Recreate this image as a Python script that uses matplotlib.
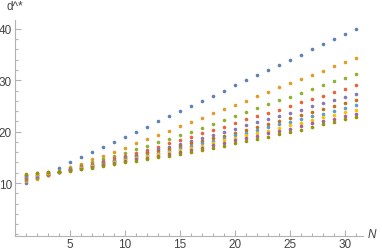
import matplotlib.pyplot as plt
from matplotlib.ticker import MultipleLocator

n_values = list(range(1, 32))

blue = [10, 11, 12, 13, 14, 15, 16, 17, 18, 19, 20, 21, 22, 23, 24, 25,
        26, 27, 28, 29, 30, 31, 32, 33, 34, 35, 36, 37, 38, 39, 40]
orange = [10.3, 10.8, 11.6, 12.4, 13.1, 13.8, 14.6, 15.3, 16.1, 16.9, 17.7,
          18.6, 19.4, 20.2, 21.1, 21.9, 22.7, 23.6, 24.4, 25.2, 26.0, 26.9,
          27.7, 28.6, 29.4, 30.2, 31.1, 31.9, 32.8, 33.6, 34.4]
green = [10.5, 11.0, 11.5, 12.3, 12.9, 13.5, 14.0, 14.6, 15.2, 15.9, 16.6,
         17.3, 18.0, 18.6, 19.3, 19.9, 20.7, 21.5, 22.3, 23.1, 23.8, 24.6,
         25.3, 26.1, 26.8, 27.5, 28.3, 29.0, 29.8, 30.5, 31.3]
red = [10.7, 11.2, 11.6, 12.2, 12.8, 13.3, 13.8, 14.3, 14.8, 15.3, 15.9,
       16.5, 17.1, 17.7, 18.4, 19.0, 19.7, 20.4, 21.0, 21.7, 22.4, 23.0,
       23.7, 24.3, 25.0, 25.7, 26.3, 27.0, 27.7, 28.3, 29.0]
purple = [10.9, 11.3, 11.7, 12.2, 12.7, 13.1, 13.6, 14.1, 14.5, 15.0, 15.5,
          16.0, 16.6, 17.1, 17.6, 18.1, 18.7, 19.3, 20.0, 20.6, 21.2, 21.8,
          22.5, 23.1, 23.7, 24.3, 24.9, 25.5, 26.2, 26.8, 27.4]
brown = [11.1, 11.5, 11.8, 12.1, 12.6, 13.0, 13.4, 13.9, 14.3, 14.8, 15.3,
         15.8, 16.3, 16.7, 17.2, 17.7, 18.2, 18.7, 19.2, 19.7, 20.3, 20.9,
         21.5, 22.1, 22.7, 23.3, 23.9, 24.5, 25.0, 25.6, 26.2]
light_blue = [11.3, 11.6, 11.9, 12.1, 12.6, 13.0, 13.4, 13.8, 14.2, 14.6, 15.0,
              15.5, 15.9, 16.3, 16.8, 17.2, 17.7, 18.2, 18.8, 19.3, 19.8, 20.3,
              20.9, 21.4, 21.9, 22.4, 23.0, 23.5, 24.0, 24.6, 25.1]
yellow = [11.5, 11.8, 12.0, 12.1, 12.5, 12.9, 13.3, 13.6, 14.0, 14.4, 14.8,
          15.2, 15.6, 16.0, 16.4, 16.8, 17.3, 17.8, 18.3, 18.8, 19.3, 19.8,
          20.2, 20.7, 21.2, 21.7, 22.2, 22.8, 23.3, 23.8, 24.3]
magenta = [11.6, 11.9, 12.1, 12.1, 12.5, 12.8, 13.2, 13.5, 13.9, 14.2, 14.6,
           14.9, 15.3, 15.7, 16.0, 16.4, 16.9, 17.4, 17.8, 18.3, 18.8, 19.2,
           19.7, 20.1, 20.6, 21.1, 21.6, 22.0, 22.5, 23.0, 23.5]
olive = [11.8, 12.0, 12.1, 12.2, 12.4, 12.7, 13.0, 13.3, 13.7, 14.0, 14.3,
         14.6, 15.0, 15.3, 15.7, 16.0, 16.4, 16.9, 17.3, 17.8, 18.2, 18.6,
         19.0, 19.5, 19.9, 20.4, 20.9, 21.4, 21.9, 22.4, 22.9]

series = [blue, orange, green, red, purple, brown, light_blue, yellow, magenta, olive]
colors = ["#5E81B5", "#E19C24", "#8FB032", "#EB6235", "#8778B3",
          "#C56E1A", "#5D9EC7", "#FFBF00", "#A5609D", "#929600"]

plt.rcParams["font.family"] = ["Liberation Sans", "DejaVu Sans"]

fig = plt.figure(figsize=(3.82, 2.53), dpi=100)
ax = fig.add_axes([0.0385, 0.0644, 0.912, 0.854])

for vals, c in zip(series, colors):
    ax.plot(n_values, vals, "o", color=c, markersize=2.6, markeredgewidth=0)

ax.set_xlim(0, 31.66)
ax.set_ylim(-0.25, 41.8)

axis_color = "#b3b3b3"
label_color = "#444444"
for side in ["top", "right"]:
    ax.spines[side].set_visible(False)
for side in ["left", "bottom"]:
    ax.spines[side].set_color(axis_color)
    ax.spines[side].set_linewidth(0.8)

ax.xaxis.set_major_locator(MultipleLocator(5))
ax.xaxis.set_minor_locator(MultipleLocator(1))
ax.yaxis.set_major_locator(MultipleLocator(10))
ax.yaxis.set_minor_locator(MultipleLocator(2))
ax.set_xticks([5, 10, 15, 20, 25, 30])
ax.set_yticks([10, 20, 30, 40])
ax.tick_params(which="both", direction="in", color=axis_color, width=0.8,
               labelcolor=label_color, labelsize=8.5, pad=2)
ax.tick_params(which="major", length=4)
ax.tick_params(which="minor", length=2.3)

fig.text(15 / 382, 1 - 7 / 253, "d^*", ha="center", va="center",
         color=label_color, fontsize=8.5)
fig.text(368 / 382, 1 - 235 / 253, "N", ha="left", va="center",
         color=label_color, fontsize=8.5, style="italic")

fig.savefig("out.png", dpi=100)
